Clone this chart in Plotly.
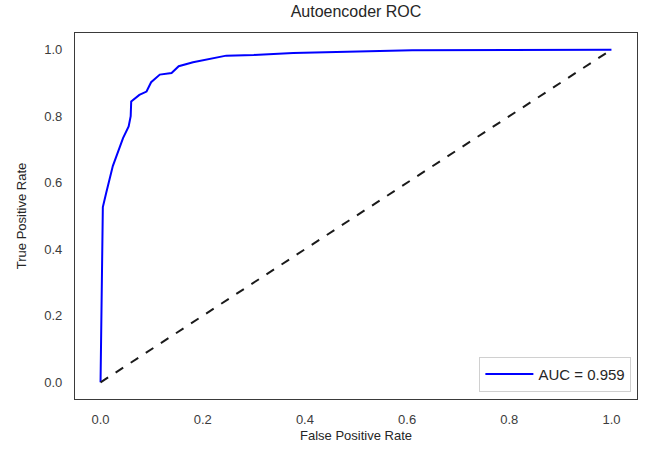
import plotly.graph_objects as go

fpr = [0.0, 0.0045, 0.011, 0.024, 0.044, 0.055, 0.059, 0.060, 0.076, 0.090, 0.099,
       0.116, 0.139, 0.153, 0.181, 0.210, 0.246, 0.300, 0.377, 0.610, 1.0]
tpr = [0.0, 0.527, 0.569, 0.650, 0.734, 0.769, 0.800, 0.844, 0.864, 0.874, 0.902,
       0.925, 0.930, 0.950, 0.962, 0.970, 0.982, 0.984, 0.990, 0.998, 1.0]
diag = [0.0, 1.0]
auc_label = "AUC = 0.959"
xticks = [0.0, 0.2, 0.4, 0.6, 0.8, 1.0]
yticks = [0.0, 0.2, 0.4, 0.6, 0.8, 1.0]

FONT = "Liberation Sans, Arial, sans-serif"
TXT = "#262626"
TICK = "#3c3c3c"

fig = go.Figure()
fig.add_trace(go.Scatter(x=fpr, y=tpr, mode="lines", name=auc_label,
                         line=dict(color="#0000ff", width=2)))
fig.add_trace(go.Scatter(x=diag, y=diag, mode="lines", showlegend=False,
                         line=dict(color="#1a1a1a", width=2, dash="dash")))

axis_common = dict(showgrid=False, zeroline=False, showline=True, mirror=True,
                   linecolor="#3a3a3a", linewidth=1.2, ticks="",
                   tickfont=dict(family=FONT, size=13, color=TICK))
fig.update_layout(
    width=645, height=450,
    margin=dict(l=75, r=8, t=33, b=51),
    plot_bgcolor="white", paper_bgcolor="white",
    title=dict(text="Autoencoder ROC", x=0.5, xanchor="center", xref="paper",
               y=1, yref="container", yanchor="top", pad=dict(t=6),
               font=dict(family=FONT, size=16, color=TXT)),
    xaxis=dict(range=[-0.05, 1.05], tickvals=xticks, tickformat=".1f",
               ticklabelstandoff=8,
               title=dict(text="False Positive Rate", standoff=5,
                          font=dict(family=FONT, size=13, color=TXT)),
               **axis_common),
    yaxis=dict(range=[-0.05, 1.05], tickvals=yticks, tickformat=".1f",
               ticklabelstandoff=9,
               title=dict(text="True Positive Rate", standoff=14,
                          font=dict(family=FONT, size=13, color=TXT)),
               **axis_common),
    legend=dict(x=0.99, y=0.02, xanchor="right", yanchor="bottom",
                bgcolor="white", bordercolor="#d0d0d0", borderwidth=1,
                itemwidth=48,
                font=dict(family=FONT, size=15, color=TXT)),
    showlegend=True,
)
fig.write_html("out.html")
